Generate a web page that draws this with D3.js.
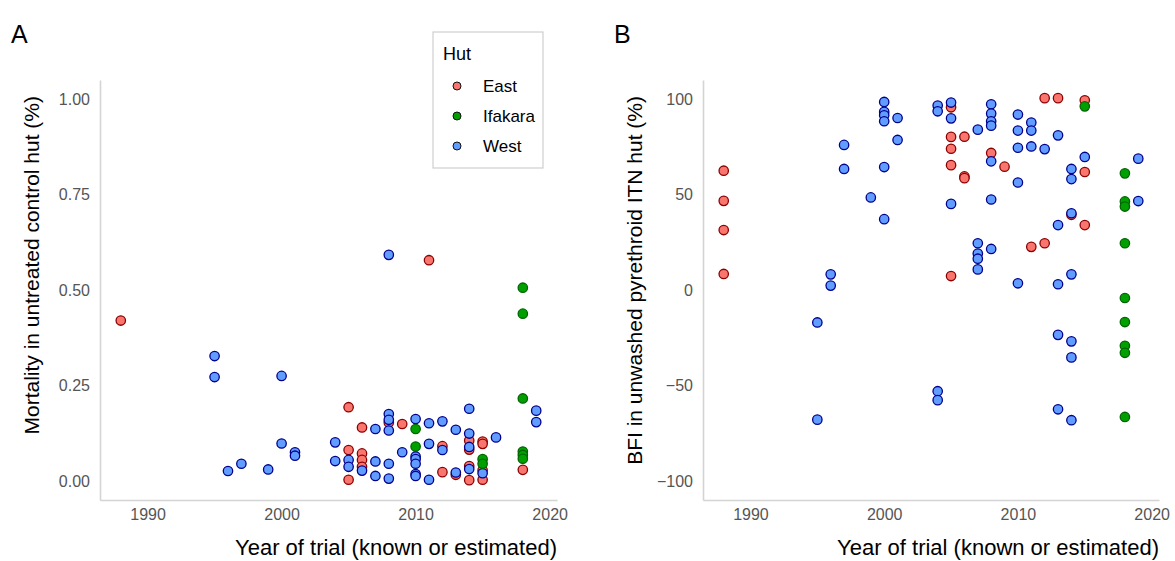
<!DOCTYPE html>
<html lang="en">

<head>
  <meta charset="utf-8">
  <title>Hut trials</title>
  <script src="https://d3js.org/d3.v7.min.js"></script>
  <style>
    body { margin: 0; background: #fff; }
    text { font-family: "Liberation Sans", Arial, sans-serif; }
  </style>
</head>

<body>
  <script>
    // hut categories
    var huts = ['East', 'Ifakara', 'West'];
    var xTicks = [1990, 2000, 2010, 2020];
    var yTicksA = [0, 0.25, 0.5, 0.75, 1];
    var yTicksB = [-100, -50, 0, 50, 100];

    // panel A : mortality in untreated control hut
    var eastYearA = [1988, 2005, 2005, 2005, 2006, 2006, 2006, 2006, 2008, 2009, 2011, 2012, 2012, 2013, 2014, 2014, 2014, 2014, 2015, 2015, 2015, 2015, 2018];
    var eastMortA = [0.42, 0.193, 0.081, 0.003, 0.14, 0.072, 0.055, 0.037, 0.153, 0.149, 0.578, 0.091, 0.023, 0.016, 0.106, 0.082, 0.039, 0.002, 0.103, 0.097, 0.028, 0.003, 0.029];
    var ifakaraYearA = [2010, 2010, 2015, 2015, 2018, 2018, 2018, 2018, 2018, 2018];
    var ifakaraMortA = [0.136, 0.090, 0.057, 0.045, 0.506, 0.438, 0.216, 0.077, 0.068, 0.058];
    var westYearA = [1995, 1995, 1996, 1997, 1999, 2000, 2000, 2001, 2001, 2004, 2004, 2005, 2005, 2006, 2007, 2007, 2007,
      2008, 2008, 2008, 2008, 2008, 2008, 2009, 2010, 2010, 2010, 2010, 2010, 2010, 2011, 2011, 2011, 2012, 2012,
      2013, 2013, 2014, 2014, 2014, 2014, 2015, 2016, 2019, 2019];
    var westMortA = [0.327, 0.272, 0.026, 0.045, 0.030, 0.275, 0.098, 0.075, 0.066, 0.101, 0.052, 0.055, 0.037, 0.027, 0.136, 0.051, 0.013,
      0.592, 0.175, 0.160, 0.132, 0.045, 0.006, 0.075, 0.162, 0.064, 0.057, 0.045, 0.018, 0.013, 0.151, 0.097, 0.003, 0.156, 0.081,
      0.134, 0.022, 0.189, 0.124, 0.089, 0.031, 0.020, 0.114, 0.184, 0.154];

    // panel B : BFI in unwashed pyrethroid ITN hut
    var eastYearB = [1988, 1988, 1988, 1988, 2005, 2005, 2005, 2005, 2005, 2006, 2006, 2006, 2008, 2009, 2011, 2012, 2012, 2013, 2014, 2015, 2015, 2015];
    var eastBfiB = [62.5, 46.7, 31.4, 8.4, 95.7, 80.2, 74.0, 65.4, 7.3, 80.3, 59.5, 58.6, 71.8, 64.6, 22.6, 100.5, 24.5, 100.5, 39.4, 99.4, 61.8, 34.0];
    var ifakaraYearB = [2015, 2018, 2018, 2018, 2018, 2018, 2018, 2018, 2018, 2018];
    var ifakaraBfiB = [96.2, 61.1, 46.4, 43.7, 24.5, -4.2, -16.8, -29.2, -32.9, -66.5];
    var westYearB = [1995, 1995, 1996, 1996, 1997, 1997, 1999, 2000, 2000, 2000, 2000, 2000, 2000, 2001, 2001,
      2004, 2004, 2004, 2004, 2005, 2005, 2005, 2007, 2007, 2007, 2007, 2007,
      2008, 2008, 2008, 2008, 2008, 2008, 2008, 2010, 2010, 2010, 2010, 2010, 2011, 2011, 2011, 2012,
      2013, 2013, 2013, 2013, 2013, 2014, 2014, 2014, 2014, 2014, 2014, 2014, 2015, 2019, 2019];
    var westBfiB = [-17, -67.9, 8.2, 2.3, 76.0, 63.4, 48.5, 98.5, 93.3, 91.5, 88.4, 64.4, 37.1, 90.1, 78.6,
      96.6, 93.6, -53, -57.7, 98.2, 89.9, 45.1, 84.0, 24.5, 19.1, 16.4, 10.8,
      97.3, 92.4, 88.4, 86.1, 67.4, 47.4, 21.5, 91.9, 83.5, 74.5, 56.3, 3.5, 87.7, 83.5, 75.2, 73.8,
      81.0, 34.0, 3.0, -23.5, -62.5, 63.4, 58.1, 40.2, 8.2, -26.9, -35.3, -68.2, 69.7, 68.8, 46.6];

    var fill = d3.scaleOrdinal().domain(huts).range(['#F8766D', '#00A000', '#619CFF']);
    var edge = d3.scaleOrdinal().domain(huts).range(['#8B0000', '#006400', '#00008B']);

    function pairs(hut, xs, ys) {
      return xs.map(function (x, i) { return { hut: hut, year: x, value: ys[i] }; });
    }

    var dataA = pairs('East', eastYearA, eastMortA)
      .concat(pairs('West', westYearA, westMortA))
      .concat(pairs('Ifakara', ifakaraYearA, ifakaraMortA));
    var dataB = pairs('East', eastYearB, eastBfiB)
      .concat(pairs('West', westYearB, westBfiB))
      .concat(pairs('Ifakara', ifakaraYearB, ifakaraBfiB));

    var w = 1175, h = 561;
    var svg = d3.select('body').append('svg')
      .attr('width', w)
      .attr('height', h);

    var plotTop = 80, plotBottom = 500;

    function panel(opts) {
      var x = d3.scaleLinear().domain([1986.45, 2020.55]).range([opts.left, opts.right]);
      var y = d3.scaleLinear().domain(opts.yDomain).range([plotBottom, plotTop]);
      var g = svg.append('g');

      var ax = g.append('g')
        .attr('transform', 'translate(0,' + plotBottom + ')')
        .call(d3.axisBottom(x).tickValues(xTicks).tickFormat(d3.format('d')).tickSize(0).tickPadding(9));
      var ay = g.append('g')
        .attr('transform', 'translate(' + opts.left + ',0)')
        .call(d3.axisLeft(y).tickValues(opts.yTicks).tickFormat(opts.fmt).tickSize(0).tickPadding(10));
      [ax, ay].forEach(function (a) {
        a.attr('font-size', null).attr('font-family', null);
        a.select('.domain').attr('stroke', '#d4d4d4').attr('stroke-width', 1.6);
        a.selectAll('text').attr('fill', '#555').style('font-size', '16px');
      });

      g.selectAll('circle.pt')
        .data(opts.data)
        .enter().append('circle')
        .attr('class', 'pt')
        .attr('cx', function (d) { return x(d.year); })
        .attr('cy', function (d) { return y(d.value); })
        .attr('r', 4.7)
        .attr('fill', function (d) { return fill(d.hut); })
        .attr('stroke', function (d) { return edge(d.hut); })
        .attr('stroke-width', 1.3);

      g.append('text')
        .attr('x', opts.right)
        .attr('y', 555)
        .attr('text-anchor', 'end')
        .style('font-size', '22px')
        .text('Year of trial (known or estimated)');

      g.append('text')
        .attr('transform', 'translate(' + (opts.left - 61) + ',96) rotate(-90)')
        .attr('text-anchor', 'end')
        .style('font-size', '21px')
        .text(opts.yTitle);

      g.append('text')
        .attr('x', opts.left - 89)
        .attr('y', 43)
        .style('font-size', '25px')
        .text(opts.tag);
    }

    panel({
      left: 100, right: 557, yDomain: [-0.05, 1.05], yTicks: yTicksA, fmt: d3.format('.2f'),
      data: dataA, yTitle: 'Mortality in untreated control hut (%)', tag: 'A'
    });
    panel({
      left: 703, right: 1159, yDomain: [-110, 110], yTicks: yTicksB, fmt: d3.format('d'),
      data: dataB, yTitle: 'BFI in unwashed pyrethroid ITN hut (%)', tag: 'B'
    });

    // legend
    var legend = svg.append('g').attr('transform', 'translate(433,32)');
    legend.append('rect')
      .attr('width', 110).attr('height', 136)
      .attr('fill', '#fff').attr('stroke', '#cfcfcf').attr('stroke-width', 1.2);
    legend.append('text').attr('x', 10).attr('y', 28).style('font-size', '18px').text('Hut');
    var item = legend.selectAll('g.item').data(huts).enter().append('g')
      .attr('class', 'item')
      .attr('transform', function (d, i) { return 'translate(24,' + (54 + i * 30) + ')'; });
    item.append('circle').attr('r', 4)
      .attr('fill', function (d) { return fill(d); })
      .attr('stroke', '#111').attr('stroke-width', 1);
    item.append('text').attr('x', 26).attr('y', 6).style('font-size', '17px').text(function (d) { return d; });
  </script>
</body>

</html>
